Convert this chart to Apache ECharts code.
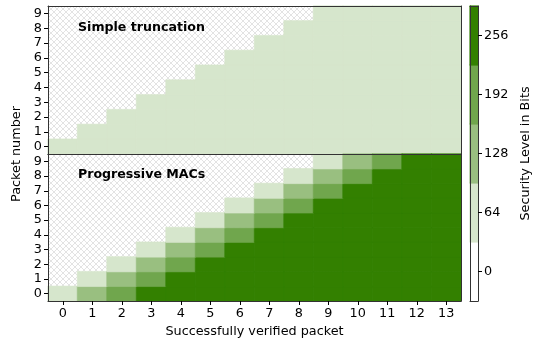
<!DOCTYPE html>
<html>
<head>
<meta charset="utf-8">
<script src="https://cdn.jsdelivr.net/npm/echarts@6/dist/echarts.min.js"></script>
<style>html,body{margin:0;padding:0;background:#fff}#c{width:533px;height:340px}</style>
</head>
<body>
<div id="c"></div>
<script>
// ---- data ----
const xCategories = ['0','1','2','3','4','5','6','7','8','9','10','11','12','13'];
const yCategories = ['0','1','2','3','4','5','6','7','8','9'];
const levelTicks = ['0','64','128','192','256'];
const levelValues = [0, 64, 128, 192, 256];
const n = null;
// rows indexed by packet number (0..9), columns by verified packet (0..13)
const simpleTruncation = [
  [64,64,64,64,64,64,64,64,64,64,64,64,64,64],
  [n,64,64,64,64,64,64,64,64,64,64,64,64,64],
  [n,n,64,64,64,64,64,64,64,64,64,64,64,64],
  [n,n,n,64,64,64,64,64,64,64,64,64,64,64],
  [n,n,n,n,64,64,64,64,64,64,64,64,64,64],
  [n,n,n,n,n,64,64,64,64,64,64,64,64,64],
  [n,n,n,n,n,n,64,64,64,64,64,64,64,64],
  [n,n,n,n,n,n,n,64,64,64,64,64,64,64],
  [n,n,n,n,n,n,n,n,64,64,64,64,64,64],
  [n,n,n,n,n,n,n,n,n,64,64,64,64,64]
];
const progressiveMACs = [
  [64,128,192,256,256,256,256,256,256,256,256,256,256,256],
  [n,64,128,192,256,256,256,256,256,256,256,256,256,256],
  [n,n,64,128,192,256,256,256,256,256,256,256,256,256],
  [n,n,n,64,128,192,256,256,256,256,256,256,256,256],
  [n,n,n,n,64,128,192,256,256,256,256,256,256,256],
  [n,n,n,n,n,64,128,192,256,256,256,256,256,256],
  [n,n,n,n,n,n,64,128,192,256,256,256,256,256],
  [n,n,n,n,n,n,n,64,128,192,256,256,256,256],
  [n,n,n,n,n,n,n,n,64,128,192,256,256,256],
  [n,n,n,n,n,n,n,n,n,64,128,192,256,256]
];
const levelColors = ['#ffffff', '#d6e6cc', '#99bf80', '#70a64d', '#338000'];

// ---- helpers ----
function colorOf(v) { return levelColors[levelValues.indexOf(v)]; }
function cell(x, y, v) {
  const c = colorOf(v);
  return { value: [x, y, v], itemStyle: { color: c, borderColor: c, borderWidth: 0.6 } };
}
function toCells(matrix) {
  const out = [];
  matrix.forEach((row, y) => row.forEach((v, x) => { if (v !== null) out.push(cell(x, y, v)); }));
  return out;
}
const hatch = document.createElement('canvas');
hatch.width = 6; hatch.height = 6;
(function () {
  const g = hatch.getContext('2d');
  g.fillStyle = '#ffffff'; g.fillRect(0, 0, 6, 6);
  g.strokeStyle = '#dcdcdc'; g.lineWidth = 0.8;
  g.beginPath();
  g.moveTo(0, 0); g.lineTo(6, 6);
  g.moveTo(6, 0); g.lineTo(0, 6);
  g.stroke();
})();
const hatchFill = { image: hatch, repeat: 'repeat' };

const FONT = 'DejaVu Sans';
const txt = { fontFamily: FONT, fontSize: 12.8, color: '#000' };
const bold = { fontFamily: FONT, fontSize: 12.6, fontWeight: 'bold', color: '#000' };
const FRAME = { show: true, lineStyle: { color: '#333', width: 1 } };

const chart = echarts.init(document.getElementById('c'), null, { renderer: 'canvas' });
const catAxisBase = {
  type: 'category',
  z: 10,
  axisLine: FRAME,
  splitLine: { show: false },
  splitArea: { show: false },
  axisTick: { show: true, interval: 0, alignWithLabel: true, length: 4, lineStyle: { color: '#000', width: 1 } },
  axisLabel: Object.assign({ margin: 6, interval: 0, hideOverlap: false }, txt)
};
// plain frame axis (line only)
function frameAxis(gridIndex, data, position) {
  return Object.assign({}, catAxisBase, { gridIndex, data, position, axisTick: { show: false }, axisLabel: { show: false } });
}

chart.setOption({
  animation: false,
  backgroundColor: '#fff',
  title: [
    { text: 'Simple truncation', left: 78, top: 21, padding: 0, textStyle: bold },
    { text: 'Progressive MACs', left: 78, top: 168, padding: 0, textStyle: bold }
  ],
  grid: [
    { left: 48, top: 6, width: 413, height: 148, show: true, backgroundColor: hatchFill, borderWidth: 0 },
    { left: 48, top: 154, width: 413, height: 147, show: true, backgroundColor: hatchFill, borderWidth: 0 },
    { left: 470, top: 6, width: 16, height: 295, show: true, backgroundColor: '#fff', borderWidth: 0 }
  ],
  xAxis: [
    frameAxis(0, xCategories, 'bottom'),
    Object.assign({}, catAxisBase, { gridIndex: 1, data: xCategories, position: 'bottom',
      name: 'Successfully verified packet', nameLocation: 'middle', nameGap: 24, nameTextStyle: txt }),
    frameAxis(2, ['c'], 'bottom'),
    frameAxis(0, xCategories, 'top'),
    frameAxis(1, xCategories, 'top'),
    frameAxis(2, ['c'], 'top')
  ],
  yAxis: [
    Object.assign({}, catAxisBase, { gridIndex: 0, data: yCategories, position: 'left' }),
    Object.assign({}, catAxisBase, { gridIndex: 1, data: yCategories, position: 'left' }),
    Object.assign({}, catAxisBase, { gridIndex: 2, data: levelTicks, position: 'right',
      name: 'Security Level in Bits', nameLocation: 'middle', nameRotate: 90, nameGap: 41, nameTextStyle: txt }),
    frameAxis(0, yCategories, 'right'),
    frameAxis(1, yCategories, 'right'),
    frameAxis(2, levelTicks, 'left')
  ],
  graphic: [
    { type: 'text', x: 17, y: 154, rotation: Math.PI / 2,
      style: { text: 'Packet number', align: 'center', verticalAlign: 'middle', font: '12.8px "DejaVu Sans"', fill: '#000' } }
  ],
  series: [
    { type: 'heatmap', xAxisIndex: 0, yAxisIndex: 0, data: toCells(simpleTruncation), emphasis: { disabled: true }, progressive: 0 },
    { type: 'heatmap', xAxisIndex: 1, yAxisIndex: 1, data: toCells(progressiveMACs), emphasis: { disabled: true }, progressive: 0 },
    { type: 'heatmap', xAxisIndex: 2, yAxisIndex: 2, data: levelValues.map((v, i) => cell(0, i, v)), emphasis: { disabled: true }, progressive: 0 }
  ]
});
</script>
</body>
</html>
